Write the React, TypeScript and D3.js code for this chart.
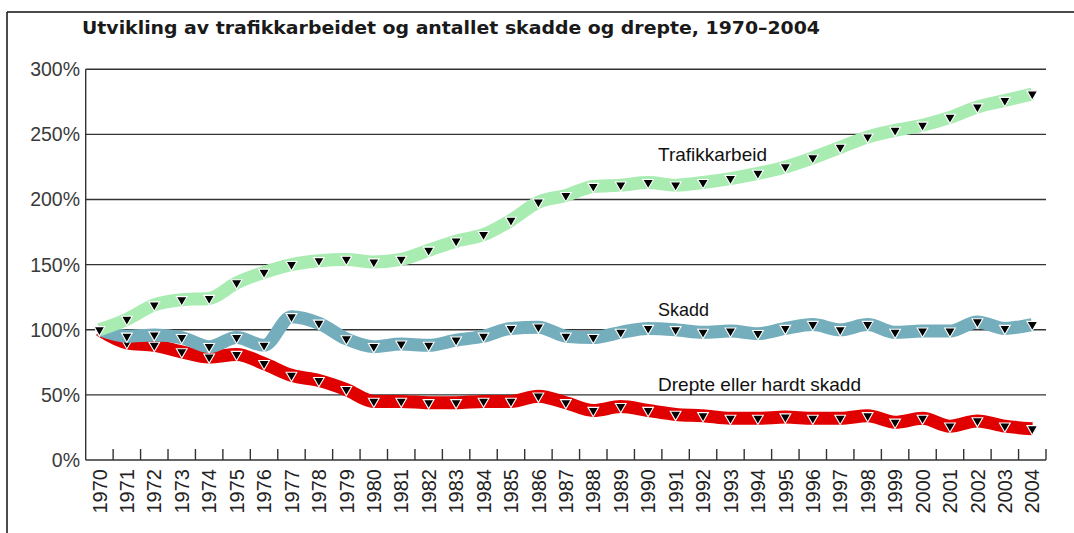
import React from "react";
import * as d3 from "d3";

const years = [
  "1970","1971","1972","1973","1974","1975","1976","1977","1978","1979",
  "1980","1981","1982","1983","1984","1985","1986","1987","1988","1989",
  "1990","1991","1992","1993","1994","1995","1996","1997","1998","1999",
  "2000","2001","2002","2003","2004",
];

const trafikkarbeid = [100,108,119,123,124,136,144,150,153,154,152,154,161,168,173,184,198,203,210,211,213,211,213,216,220,225,232,240,248,253,257,263,271,276,281];
const skadd = [100,95,96,94,87,94,88,110,105,93,87,89,88,92,95,101,102,95,94,98,101,100,98,99,97,101,104,100,104,98,99,99,106,101,104];
const drepte = [100,90,88,83,79,81,74,65,61,54,45,45,44,44,45,45,49,44,38,41,38,35,34,32,32,33,32,32,34,29,32,26,30,26,24];

const yTicks = [0, 50, 100, 150, 200, 250, 300];
const title = "Utvikling av trafikkarbeidet og antallet skadde og drepte, 1970–2004";

const seriesDefs = [
  { name: "Drepte eller hardt skadd", values: drepte, color: "#e00000" },
  { name: "Skadd", values: skadd, color: "#74aebd" },
  { name: "Trafikkarbeid", values: trafikkarbeid, color: "#a8ecb2" },
];

const W = 1074;
const H = 533;
const left = 85.7;
const right = 1046;
const top = 69.2;
const bottom = 460;

export default function App() {
  const x = d3.scaleBand<string>().domain(years).range([left, right]).padding(0);
  const y = d3.scaleLinear().domain([0, 300]).range([bottom, top]);
  const bw = x.bandwidth();
  const cx = (yr: string) => (x(yr) as number) + bw / 2;

  const line = d3
    .line<number>()
    .x((_, i) => cx(years[i]))
    .y((d) => y(d))
    .curve(d3.curveMonotoneX);

  const tri = d3.symbol().type(d3.symbolTriangle).size(50)();

  const labelFont = "'Liberation Sans', Arial, sans-serif";

  return (
    <svg
      width={W}
      height={H}
      style={{ position: "absolute", left: 0, top: 0, background: "#fff" }}
    >
      <rect x={0} y={0} width={W} height={H} fill="#fff" />
      {/* frame */}
      <line x1={7} y1={12} x2={W} y2={12} stroke="#111" strokeWidth={1.5} />
      <line x1={7} y1={12} x2={7} y2={H} stroke="#111" strokeWidth={1.5} />

      {/* title */}
      <text
        x={82}
        y={33.5}
        fontFamily="'DejaVu Sans', sans-serif"
        fontWeight="bold"
        fontSize={17}
        fill="#1a1a1a"
        textLength={738}
        lengthAdjust="spacingAndGlyphs"
      >
        {title}
      </text>

      {/* gridlines */}
      {yTicks.map((t) => (
        <line
          key={"g" + t}
          x1={left}
          x2={right}
          y1={y(t)}
          y2={y(t)}
          stroke="#333"
          strokeWidth={1.4}
        />
      ))}
      {/* y axis */}
      <line x1={left} x2={left} y1={y(300)} y2={bottom} stroke="#333" strokeWidth={1.4} />
      {/* y labels */}
      {yTicks.map((t) => (
        <text
          key={"yl" + t}
          x={80}
          y={y(t)}
          dy="0.36em"
          textAnchor="end"
          fontFamily={labelFont}
          fontSize={19.5}
          fill="#3a3a3a"
        >
          {t + "%"}
        </text>
      ))}
      {/* x ticks at band boundaries */}
      {years.map((yr) => (
        <line
          key={"xt" + yr}
          x1={(x(yr) as number) + bw}
          x2={(x(yr) as number) + bw}
          y1={bottom - 11}
          y2={bottom}
          stroke="#333"
          strokeWidth={1.4}
        />
      ))}
      {/* x labels */}
      {years.map((yr) => (
        <text
          key={"xl" + yr}
          transform={`translate(${cx(yr)},469) rotate(-90)`}
          dy="0.36em"
          textAnchor="end"
          fontFamily={labelFont}
          fontSize={20}
          fill="#222"
        >
          {yr}
        </text>
      ))}

      {/* series */}
      {seriesDefs.map((s) => (
        <g key={s.name}>
          <path
            d={line(s.values) || ""}
            fill="none"
            stroke={s.color}
            strokeWidth={13}
            strokeLinecap="butt"
            strokeLinejoin="round"
          />
          {s.values.map((v, i) => (
            <path
              key={i}
              d={tri || ""}
              transform={`translate(${cx(years[i])},${y(v)}) rotate(180)`}
              fill="#000"
              stroke="#fff"
              strokeWidth={1.1}
            />
          ))}
        </g>
      ))}

      {/* series labels */}
      <text x={658} y={160.5} fontFamily={labelFont} fontSize={19} fill="#111" textLength={109} lengthAdjust="spacingAndGlyphs">
        Trafikkarbeid
      </text>
      <text x={658} y={316} fontFamily={labelFont} fontSize={19} fill="#111" textLength={51} lengthAdjust="spacingAndGlyphs">
        Skadd
      </text>
      <text x={658} y={390.7} fontFamily={labelFont} fontSize={19} fill="#111" textLength={203} lengthAdjust="spacingAndGlyphs">
        Drepte eller hardt skadd
      </text>
    </svg>
  );
}
